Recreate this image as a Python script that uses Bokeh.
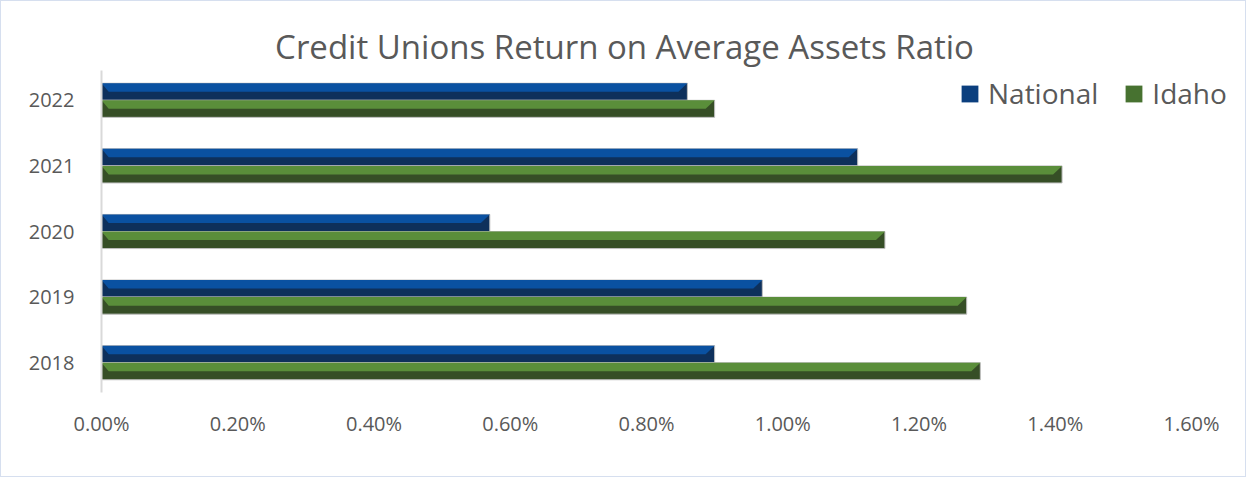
from bokeh.plotting import figure
from bokeh.models import (ColumnDataSource, FixedTicker, PrintfTickFormatter,
                          Legend, LegendItem, Range1d, Label)
from bokeh.embed import file_html
from bokeh.resources import INLINE

# ---- data ----
years = ["2018", "2019", "2020", "2021", "2022"]
national = [0.90, 0.97, 0.57, 1.11, 0.86]
idaho = [1.29, 1.27, 1.15, 1.41, 0.90]
x_ticks = [0.0, 0.2, 0.4, 0.6, 0.8, 1.0, 1.2, 1.4, 1.6]
series_names = ["National", "Idaho"]
chart_title = "Credit Unions Return on Average Assets Ratio"

# ---- style ----
NAT_LIGHT, NAT_DARK = "#0A51A1", "#0E305B"
IDA_LIGHT, IDA_DARK = "#5A8E3A", "#364E26"
TXT = "#595959"
FONT = "Open Sans"

OFF = 1                     # 1px css border
W, H = 1248 - 2 * OFF, 479 - 2 * OFF
AX_L, AX_R = 101 - OFF, 1191 - OFF      # pixel of 0% and of last tick
CAT_T, CAT_B = 67 - OFF, 395 - OFF      # category band extent
FR_R, FR_T = W - 4, 4                   # frame right / top edge
XMAX = x_ticks[-1]
ncat = len(years)
unit_y = (CAT_B - CAT_T) / ncat
x_end = XMAX * (FR_R - AX_L) / (AX_R - AX_L)
y_end = ncat - 0.5 + (CAT_T - FR_T) / unit_y
BAR_H = 0.26
bevel = 9 * XMAX / (AX_R - AX_L)  # ~9px in data units

p = figure(width=W, height=H, output_backend="svg", toolbar_location=None,
           x_range=Range1d(0, x_end), y_range=Range1d(-0.5, y_end),
           min_border_left=AX_L, min_border_right=W - FR_R,
           min_border_top=FR_T, min_border_bottom=H - CAT_B)
p.outline_line_color = None
p.grid.visible = False
p.styles = {"border": "1px solid #D6DFEF"}


def draw(values, offset, light, dark):
    ys = [i + offset for i in range(len(values))]
    src = ColumnDataSource(dict(y=ys, v=values))
    r = p.hbar(y="y", left=0, right="v", height=BAR_H, source=src,
               fill_color=dark, line_color="#BFBFBF", line_width=1)
    xs_l, ys_l = [], []
    for y, v in zip(ys, values):
        top = y + BAR_H / 2
        xs_l.append([0, v, v - bevel, bevel * 0.8])
        ys_l.append([top, top, y, y])
    p.patches(xs_l, ys_l, fill_color=light, line_color=None)
    return r


draw(national, BAR_H / 2, NAT_LIGHT, NAT_DARK)
draw(idaho, -BAR_H / 2, IDA_LIGHT, IDA_DARK)

# legend squares (dedicated renderers, outside visible ranges)
leg_nat = p.rect(x=[-10], y=[-10], width=1, height=1, fill_color="#0B3F7E",
                 line_color=None)
leg_ida = p.rect(x=[-10], y=[-10], width=1, height=1, fill_color="#477230",
                 line_color=None)

legend = Legend(items=[LegendItem(label=series_names[0], renderers=[leg_nat]),
                       LegendItem(label=series_names[1], renderers=[leg_ida])],
                orientation="horizontal", location=(858, 283),
                glyph_width=21, glyph_height=21, label_standoff=8, spacing=25,
                padding=0, margin=0, border_line_color=None,
                background_fill_alpha=0, label_text_font=FONT,
                label_text_font_size="28px", label_text_color=TXT)
p.add_layout(legend, "center")

# axes
p.xaxis.ticker = FixedTicker(ticks=x_ticks)
p.xaxis.formatter = PrintfTickFormatter(format="%.2f%%")
p.xaxis.axis_line_color = None
p.xaxis.major_tick_line_color = None
p.xaxis.minor_tick_line_color = None
p.xaxis.major_label_standoff = 8
p.yaxis.ticker = FixedTicker(ticks=list(range(ncat)))
p.yaxis.major_label_overrides = {i: y for i, y in enumerate(years)}
p.yaxis.bounds = (-0.45, ncat - 0.55)
p.yaxis.axis_line_color = "#D9D9D9"
p.yaxis.axis_line_width = 2
p.yaxis.major_tick_line_color = None
p.yaxis.minor_tick_line_color = None
p.yaxis.major_label_standoff = 21
for ax in (p.xaxis, p.yaxis):
    ax.major_label_text_font = FONT
    ax.major_label_text_font_size = "20px"
    ax.major_label_text_color = TXT

title = Label(x=624 - 101, y=395 - 46, x_units="screen", y_units="screen",
              text=chart_title,
              text_align="center", text_baseline="middle", text_font=FONT,
              text_font_size="33px", text_color=TXT)
p.add_layout(title)

open("out.html", "w").write(file_html(p, INLINE))
